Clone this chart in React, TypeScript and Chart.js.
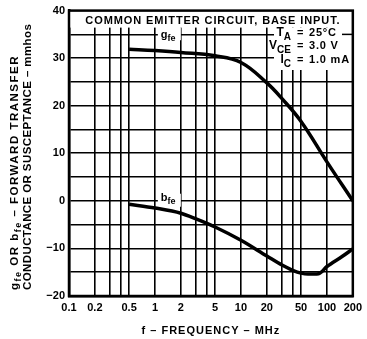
import React, { useEffect, useRef } from 'react';
import { Chart, registerables } from 'chart.js';

Chart.register(...registerables);

// ---- data ----
const FREQ_G = [0.5, 1, 2, 5, 10, 20, 30, 50, 100, 200];
const G_FE = [31.9, 31.6, 31.2, 30.5, 29.1, 24.8, 21.5, 16.7, 8.2, 0];
const FREQ_B = [0.5, 1, 2, 3, 5, 10, 20, 30, 40, 50, 60, 80, 100, 150, 200];
const B_FE = [-0.7, -1.5, -2.6, -3.8, -5.5, -8.3, -11.6, -13.5, -14.6, -15.2, -15.4, -15.3, -13.8, -11.7, -10.1];
const X_GRID = [0.1, 0.2, 0.3, 0.4, 0.5, 1, 2, 3, 4, 5, 10, 20, 30, 40, 50, 100, 200];
const X_LABELS = [0.1, 0.2, 0.5, 1, 2, 5, 10, 20, 50, 100, 200];
const Y_MIN = -20;
const Y_MAX = 40;
const Y_GRID_STEP = 5;
const Y_LABEL_STEP = 10;

const TITLE = 'COMMON EMITTER CIRCUIT, BASE INPUT.';
const X_TITLE = 'f \u2013 FREQUENCY \u2013 MHz';
const COND_SYM = ['T', 'V', 'I'];
const COND_SUB = ['A', 'CE', 'C'];
const COND_VAL = ['25\u00b0C', '3.0 V', '1.0 mA'];

const FONT = '"Liberation Sans", Arial, Helvetica, sans-serif';

type Run = { t: string; sub?: boolean };

function setF(ctx: CanvasRenderingContext2D, size: number, spacing: number) {
  ctx.font = `bold ${size}px ${FONT}`;
  (ctx as any).letterSpacing = `${spacing}px`;
}

function measureRuns(ctx: CanvasRenderingContext2D, runs: Run[], size: number, subSize: number, spacing = 0) {
  let w = 0;
  for (const r of runs) {
    setF(ctx, r.sub ? subSize : size, spacing);
    w += ctx.measureText(r.t).width;
  }
  return w;
}

function drawRuns(ctx: CanvasRenderingContext2D, runs: Run[], x: number, y: number, size: number, subSize: number, subDy: number, spacing = 0) {
  let cx = x;
  ctx.textAlign = 'left';
  ctx.textBaseline = 'alphabetic';
  for (const r of runs) {
    setF(ctx, r.sub ? subSize : size, spacing);
    ctx.fillText(r.t, cx, r.sub ? y + subDy : y);
    cx += ctx.measureText(r.t).width;
  }
  return cx;
}

const overlay = {
  id: 'overlay',
  beforeDatasetsDraw(chart: any) {
    const { ctx, chartArea: a, scales } = chart;
    const x = scales.x;
    const y = scales.y;
    ctx.save();
    ctx.fillStyle = '#fff';
    // title band
    ctx.fillRect(a.left, a.top, a.right - a.left, 17);
    // conditions block
    ctx.fillRect(274, a.top + 17, a.right - 274, 70 - a.top - 17);
    // label boxes
    const gx = x.getPixelForValue(1.08);
    ctx.fillRect(gx, y.getPixelForValue(36.5), 23, 13);
    ctx.fillRect(gx, y.getPixelForValue(1.5), 23, 13);

    // restore small grid segment at y=35 right of the temperature line
    ctx.strokeStyle = '#000';
    ctx.lineWidth = 1.5;
    ctx.beginPath();
    const y35 = y.getPixelForValue(35);
    ctx.moveTo(342, y35);
    ctx.lineTo(a.right, y35);
    ctx.stroke();

    ctx.fillStyle = '#000';
    // title
    setF(ctx, 11, 0.9);
    ctx.textAlign = 'center';
    ctx.textBaseline = 'alphabetic';
    ctx.fillText(TITLE, (a.left + a.right) / 2 + 2, a.top + 13);

    // curve labels
    drawRuns(ctx, [{ t: 'g' }, { t: 'fe', sub: true }], gx + 3, y.getPixelForValue(34.2), 11, 9, 3);
    drawRuns(ctx, [{ t: 'b' }, { t: 'fe', sub: true }], gx + 3, y.getPixelForValue(0), 11, 9, 3);

    // conditions
    const bases = [36, 49, 63];
    for (let i = 0; i < 3; i++) {
      const runs = [{ t: COND_SYM[i] }, { t: COND_SUB[i], sub: true }];
      const w = measureRuns(ctx, runs, 12, 10, 0);
      drawRuns(ctx, runs, 291 - w, bases[i], 12, 10, 3.5, 0);
      drawRuns(ctx, [{ t: '=' }], 297, bases[i], 11, 11, 0, 0);
      drawRuns(ctx, [{ t: COND_VAL[i] }], 309, bases[i], 11, 11, 0, 0.8);
    }

    ctx.restore();
  },
  afterDraw(chart: any) {
    const { ctx, chartArea: a } = chart;
    ctx.save();
    ctx.strokeStyle = '#000';
    ctx.lineWidth = 2.5;
    ctx.strokeRect(a.left, a.top, a.right - a.left, a.bottom - a.top);

    // x title
    ctx.fillStyle = '#000';
    setF(ctx, 11, 1);
    ctx.textAlign = 'center';
    ctx.textBaseline = 'alphabetic';
    ctx.fillText(X_TITLE, (a.left + a.right) / 2, 334);

    // y title (rotated, two lines)
    ctx.save();
    ctx.translate(17.5, 290);
    ctx.rotate(-Math.PI / 2);
    drawRuns(ctx, [
      { t: 'g' }, { t: 'fe', sub: true }, { t: ' OR b' }, { t: 'fe', sub: true },
      { t: ' \u2013 FORWARD TRANSFER' },
    ], 0, 0, 11.5, 9, 3, 1.5);
    ctx.restore();
    ctx.save();
    ctx.translate(31, 290);
    ctx.rotate(-Math.PI / 2);
    drawRuns(ctx, [{ t: 'CONDUCTANCE OR SUSCEPTANCE \u2013 mmhos' }], 0, 0, 11.5, 11.5, 0, 0.4);
    ctx.restore();
    ctx.restore();
  },
};

export default function App() {
  const ref = useRef<HTMLCanvasElement | null>(null);
  useEffect(() => {
    if (!ref.current) return;
    const chart = new Chart(ref.current, {
      type: 'line',
      data: {
        datasets: [
          {
            data: FREQ_G.map((f, i) => ({ x: f, y: G_FE[i] })),
            borderColor: '#000',
            borderWidth: 3.5,
            pointRadius: 0,
            tension: 0.4,
            fill: false,
          },
          {
            data: FREQ_B.map((f, i) => ({ x: f, y: B_FE[i] })),
            borderColor: '#000',
            borderWidth: 3.5,
            pointRadius: 0,
            cubicInterpolationMode: 'monotone',
            fill: false,
          },
        ],
      },
      options: {
        responsive: false,
        animation: false,
        events: [],
        layout: { padding: { left: 0, right: 10, top: 8, bottom: 0 } },
        plugins: { legend: { display: false }, tooltip: { enabled: false } },
        scales: {
          x: {
            type: 'logarithmic',
            min: 0.1,
            max: 200,
            afterBuildTicks: (s: any) => {
              s.ticks = X_GRID.map((v) => ({ value: v }));
            },
            afterFit: (s: any) => {
              s.height = 43;
            },
            grid: { color: '#000', lineWidth: 1.6, drawTicks: false },
            border: { display: true, color: '#000', width: 2.5 },
            ticks: {
              color: '#000',
              padding: 5,
              maxRotation: 0,
              autoSkip: false,
              font: { family: FONT, size: 11, weight: 'bold' },
              callback: (v: any) => (X_LABELS.includes(Number(v)) ? String(v) : ''),
            },
          },
          y: {
            type: 'linear',
            min: Y_MIN,
            max: Y_MAX,
            afterFit: (s: any) => {
              s.width = 69;
            },
            grid: { color: '#000', lineWidth: 1.6, drawTicks: false },
            border: { display: true, color: '#000', width: 2.5 },
            ticks: {
              stepSize: Y_GRID_STEP,
              color: '#000',
              padding: 4,
              font: { family: FONT, size: 11, weight: 'bold' },
              callback: (v: any) => {
                const n = Number(v);
                if (n % Y_LABEL_STEP !== 0) return '';
                return n < 0 ? '\u2212' + Math.abs(n) : String(n);
              },
            },
          },
        },
      },
      plugins: [overlay],
    } as any);
    return () => chart.destroy();
  }, []);
  return (
    <div style={{ position: 'fixed', left: 0, top: 0, width: 367, height: 339, background: '#fff' }}>
      <canvas ref={ref} width={367} height={339} style={{ width: 367, height: 339, display: 'block' }} />
    </div>
  );
}
